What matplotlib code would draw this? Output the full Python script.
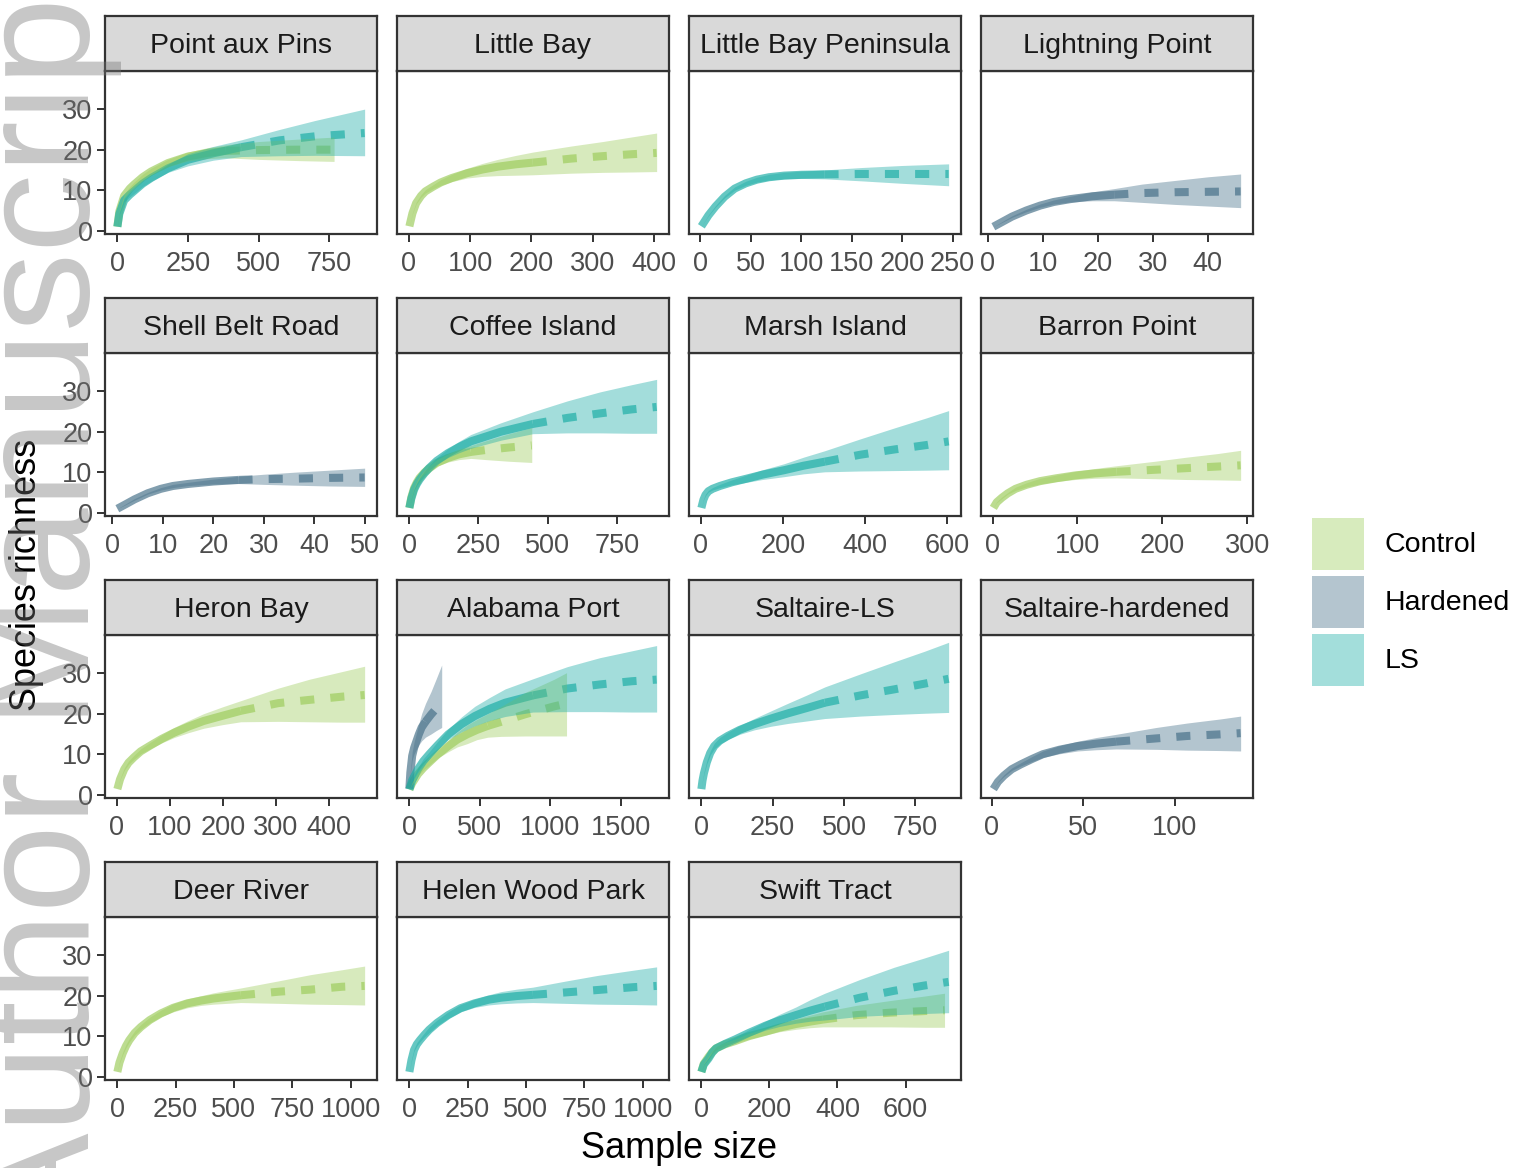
import matplotlib
matplotlib.use("Agg")
import matplotlib.pyplot as plt
from matplotlib.patches import Rectangle
from matplotlib.colors import to_rgb

# ---------------- data ----------------
GROUPS = ["Control", "Hardened", "LS"]
GROUP_COLORS = {"Control": "#9CCC5A", "Hardened": "#436E87", "LS": "#19ACA5"}

SITES = ["Point aux Pins", "Little Bay", "Little Bay Peninsula", "Lightning Point",
         "Shell Belt Road", "Coffee Island", "Marsh Island", "Barron Point",
         "Heron Bay", "Alabama Port", "Saltaire-LS", "Saltaire-hardened",
         "Deer River", "Helen Wood Park", "Swift Tract"]

X_TICKS = {
    "Point aux Pins": [0, 250, 500, 750],
    "Little Bay": [0, 100, 200, 300, 400],
    "Little Bay Peninsula": [0, 50, 100, 150, 200, 250],
    "Lightning Point": [0, 10, 20, 30, 40],
    "Shell Belt Road": [0, 10, 20, 30, 40, 50],
    "Coffee Island": [0, 250, 500, 750],
    "Marsh Island": [0, 200, 400, 600],
    "Barron Point": [0, 100, 200, 300],
    "Heron Bay": [0, 100, 200, 300, 400],
    "Alabama Port": [0, 500, 1000, 1500],
    "Saltaire-LS": [0, 250, 500, 750],
    "Saltaire-hardened": [0, 50, 100],
    "Deer River": [0, 250, 500, 750, 1000],
    "Helen Wood Park": [0, 250, 500, 750, 1000],
    "Swift Tract": [0, 200, 400, 600],
}
Y_TICKS = [0, 10, 20, 30]

# each curve: sample size n, richness s, lower / upper CI, observed sample size
pap_control = dict(n=[1, 8, 25, 45, 60, 90, 120, 180, 250, 320, 384, 500, 640, 767],
                   s=[1.0, 4.8, 8.6, 10.4, 11.4, 13.2, 14.6, 16.7, 18.3, 19.2, 19.7, 19.9, 20.0, 20.0],
                   lo=[1.0, 4.6, 8.2, 9.9, 10.8, 12.5, 13.8, 15.8, 17.2, 17.8, 18.0, 17.6, 17.3, 17.1],
                   hi=[1.0, 5.0, 9.0, 10.9, 12.0, 13.9, 15.4, 17.6, 19.4, 20.5, 21.2, 22.0, 22.6, 23.1],
                   obs=384)
pap_ls = dict(n=[1, 8, 25, 45, 60, 90, 120, 180, 250, 340, 438, 575, 700, 875],
              s=[1.0, 4.2, 7.5, 8.9, 9.8, 11.6, 13.0, 15.4, 17.5, 19.1, 20.6, 22.3, 23.3, 24.1],
              lo=[1.0, 4.0, 7.1, 8.4, 9.2, 10.9, 12.2, 14.4, 16.0, 17.4, 18.3, 18.5, 18.6, 18.5],
              hi=[1.0, 4.4, 7.9, 9.4, 10.4, 12.3, 13.8, 16.4, 19.0, 20.8, 22.4, 25.0, 27.2, 30.0],
              obs=438)
lb_control = dict(n=[1, 6, 12, 20, 27, 40, 52, 70, 95, 120, 145, 175, 202, 265, 316, 366, 404],
                  s=[1.1, 4.3, 6.8, 8.6, 9.7, 10.9, 11.9, 13.0, 14.2, 15.1, 15.8, 16.4, 16.8, 17.8, 18.4, 18.9, 19.2],
                  lo=[1.1, 4.2, 6.6, 8.3, 9.3, 10.4, 11.2, 12.1, 13.0, 13.4, 13.6, 13.7, 13.8, 14.2, 14.4, 14.5, 14.6],
                  hi=[1.1, 4.4, 7.0, 8.9, 10.1, 11.4, 12.6, 13.9, 15.4, 16.6, 17.6, 18.6, 19.4, 20.9, 22.0, 23.2, 24.1],
                  obs=202)
lbp_ls = dict(n=[1, 8, 15, 24, 34, 45, 56, 68, 83, 100, 123, 160, 200, 246],
              s=[1.1, 3.8, 6.0, 8.4, 10.4, 11.7, 12.6, 13.2, 13.6, 13.8, 13.9, 14.0, 14.0, 14.0],
              lo=[1.1, 3.7, 5.8, 8.1, 10.0, 11.2, 12.0, 12.5, 12.8, 12.9, 12.8, 12.3, 11.7, 11.1],
              hi=[1.1, 3.9, 6.2, 8.7, 10.8, 12.2, 13.2, 13.9, 14.4, 14.7, 15.0, 15.6, 16.1, 16.5],
              obs=123)
lp_hardened = dict(n=[1, 2.5, 4.4, 7, 9.5, 12, 15, 19, 23, 28, 34, 40, 46],
                   s=[1.0, 2.1, 3.5, 5.0, 6.2, 7.1, 7.8, 8.5, 8.9, 9.3, 9.5, 9.6, 9.7],
                   lo=[1.0, 2.0, 3.3, 4.7, 5.8, 6.6, 7.1, 7.4, 7.4, 7.0, 6.5, 6.1, 5.7],
                   hi=[1.0, 2.2, 3.7, 5.3, 6.6, 7.6, 8.5, 9.6, 10.4, 11.5, 12.4, 13.3, 14.0],
                   obs=23)
sbr_hardened = dict(n=[1, 2.5, 4.4, 7, 9.6, 12, 15, 20, 25, 30, 36, 43, 50],
                    s=[1.0, 2.0, 3.3, 4.8, 5.9, 6.6, 7.1, 7.7, 8.1, 8.3, 8.4, 8.6, 8.7],
                    lo=[1.0, 1.9, 3.1, 4.6, 5.6, 6.2, 6.7, 7.1, 7.2, 7.0, 6.8, 6.6, 6.5],
                    hi=[1.0, 2.1, 3.5, 5.0, 6.2, 7.0, 7.5, 8.3, 9.0, 9.5, 10.0, 10.5, 11.0],
                    obs=25)
ci_control = dict(n=[1, 8, 18, 28, 38, 55, 72, 100, 140, 180, 223, 279, 361, 443],
                  s=[1.2, 3.8, 6.1, 7.5, 8.6, 9.9, 10.9, 12.3, 13.5, 14.4, 15.0, 15.5, 16.1, 16.6],
                  lo=[1.2, 3.7, 5.9, 7.2, 8.2, 9.4, 10.3, 11.5, 12.5, 13.1, 13.4, 13.1, 12.7, 12.4],
                  hi=[1.2, 3.9, 6.3, 7.8, 9.0, 10.4, 11.5, 13.1, 14.5, 15.7, 16.6, 17.8, 19.5, 21.0],
                  obs=223)
ci_ls = dict(n=[1, 8, 18, 28, 38, 55, 72, 100, 140, 180, 223, 332, 447, 572, 689, 805, 894],
             s=[1.2, 3.5, 5.7, 7.1, 8.2, 9.7, 11.0, 12.8, 14.7, 16.2, 17.6, 20.0, 21.9, 23.4, 24.5, 25.5, 26.1],
             lo=[1.2, 3.4, 5.5, 6.8, 7.8, 9.2, 10.4, 12.0, 13.6, 14.8, 15.9, 17.9, 19.5, 19.7, 19.7, 19.6, 19.6],
             hi=[1.2, 3.6, 5.9, 7.4, 8.6, 10.2, 11.6, 13.6, 15.8, 17.6, 19.3, 22.2, 24.9, 27.6, 29.8, 31.6, 32.9],
             obs=447)
mi_ls = dict(n=[1, 6, 11, 18, 28, 46, 75, 111, 150, 203, 250, 302, 388, 471, 550, 604],
             s=[1.2, 3.2, 4.4, 5.3, 5.9, 6.6, 7.5, 8.4, 9.4, 10.5, 11.6, 12.6, 14.3, 15.6, 16.7, 17.6],
             lo=[1.2, 3.1, 4.2, 5.1, 5.6, 6.2, 6.9, 7.5, 8.2, 8.9, 9.6, 10.1, 10.3, 10.4, 10.5, 10.6],
             hi=[1.2, 3.3, 4.6, 5.5, 6.2, 7.0, 8.1, 9.3, 10.6, 12.1, 13.7, 15.3, 18.2, 20.9, 23.4, 25.2],
             obs=302)
bp_control = dict(n=[1, 5, 11, 18, 27, 40, 56, 75, 97, 120, 146, 191, 228, 265, 292],
                  s=[1.2, 2.6, 3.7, 4.8, 5.9, 6.9, 7.8, 8.5, 9.2, 9.7, 10.1, 10.6, 11.0, 11.4, 11.7],
                  lo=[1.2, 2.5, 3.5, 4.6, 5.5, 6.4, 7.1, 7.7, 8.2, 8.5, 8.6, 8.4, 8.2, 8.1, 8.0],
                  hi=[1.2, 2.7, 3.9, 5.0, 6.3, 7.4, 8.5, 9.3, 10.2, 10.9, 11.6, 12.7, 13.7, 14.6, 15.4],
                  obs=146)
hb_control = dict(n=[1, 6, 14, 22, 32, 45, 64, 85, 108, 135, 164, 200, 234, 305, 364, 426, 468],
                  s=[1.4, 3.8, 6.3, 7.9, 9.2, 10.7, 12.2, 13.8, 15.3, 16.8, 18.2, 19.5, 20.7, 22.6, 23.4, 24.2, 24.6],
                  lo=[1.4, 3.7, 6.0, 7.5, 8.7, 10.1, 11.4, 12.8, 14.1, 15.3, 16.4, 17.3, 18.0, 18.1, 18.0, 17.9, 17.9],
                  hi=[1.4, 3.9, 6.6, 8.3, 9.7, 11.3, 13.0, 14.8, 16.6, 18.3, 20.0, 21.7, 23.2, 26.3, 28.5, 30.4, 31.7],
                  obs=234)
ap_control = dict(n=[1, 20, 62, 100, 142, 200, 276, 340, 410, 480, 557, 652, 826, 1027, 1114],
                  s=[1.3, 2.8, 5.1, 6.6, 8.0, 9.9, 12.0, 13.6, 14.9, 16.0, 17.0, 18.0, 19.9, 21.8, 22.5],
                  lo=[1.3, 2.6, 4.7, 6.1, 7.3, 9.0, 10.6, 11.8, 12.6, 13.6, 14.2, 14.4, 14.5, 14.5, 14.5],
                  hi=[1.3, 3.0, 5.5, 7.1, 8.7, 10.8, 13.4, 15.4, 17.2, 18.6, 20.0, 21.8, 25.3, 28.5, 30.1],
                  obs=557)
ap_hardened = dict(n=[1, 8, 21, 35, 48, 68, 88, 115, 155, 190, 230],
                   s=[1.5, 5.5, 9.6, 11.6, 12.9, 14.9, 16.6, 18.0, 19.8, 21.2, 22.4],
                   lo=[1.5, 5.1, 8.6, 10.1, 11.0, 12.3, 13.3, 14.2, 15.0, 15.8, 16.6],
                   hi=[1.5, 5.9, 10.6, 13.1, 14.8, 17.5, 20.0, 22.5, 25.5, 28.5, 32.0],
                   obs=115)
ap_ls = dict(n=[1, 20, 62, 100, 142, 200, 276, 370, 464, 570, 679, 876, 1120, 1349, 1577, 1752],
             s=[1.3, 3.5, 6.3, 8.3, 10.0, 12.2, 14.9, 17.4, 19.4, 21.2, 22.7, 24.5, 26.2, 27.2, 28.0, 28.4],
             lo=[1.3, 3.2, 5.9, 7.7, 9.4, 11.3, 13.6, 15.5, 17.0, 18.3, 19.3, 20.4, 20.5, 20.5, 20.4, 20.4],
             hi=[1.3, 3.8, 6.7, 8.9, 10.6, 13.1, 16.2, 19.2, 21.8, 24.0, 26.1, 28.6, 31.6, 33.8, 35.5, 36.8],
             obs=876)
sls_ls = dict(n=[1, 5, 10, 20, 32, 46, 65, 93, 135, 186, 245, 305, 370, 433, 557, 676, 782, 866],
              s=[1.4, 3.5, 5.3, 8.0, 10.3, 12.0, 13.3, 14.5, 16.0, 17.4, 18.8, 20.1, 21.4, 22.7, 24.5, 26.0, 27.4, 28.6],
              lo=[1.4, 3.4, 5.1, 7.6, 9.8, 11.3, 12.5, 13.6, 14.9, 16.0, 16.9, 17.6, 18.2, 18.8, 19.4, 19.8, 20.1, 20.3],
              hi=[1.4, 3.6, 5.5, 8.4, 10.8, 12.7, 14.1, 15.4, 17.1, 18.8, 20.7, 22.6, 24.6, 26.6, 29.8, 32.8, 35.4, 37.6],
              obs=433)
sh_hardened = dict(n=[1, 3.5, 6.7, 11, 16, 22, 28, 37, 47, 57, 68, 90, 107, 125, 136],
                   s=[1.4, 3.2, 4.7, 6.3, 7.5, 8.8, 10.0, 11.1, 12.0, 12.6, 13.1, 13.9, 14.5, 14.9, 15.2],
                   lo=[1.4, 3.1, 4.5, 6.0, 7.1, 8.2, 9.2, 10.1, 10.8, 11.1, 11.3, 11.2, 11.0, 10.9, 10.8],
                   hi=[1.4, 3.3, 4.9, 6.6, 7.9, 9.4, 10.8, 12.1, 13.2, 14.1, 14.9, 16.6, 17.7, 18.7, 19.4],
                   obs=68)
dr_control = dict(n=[1, 10, 24, 38, 52, 75, 102, 140, 187, 240, 300, 360, 413, 470, 530, 696, 830, 964, 1060],
                  s=[1.2, 3.5, 5.8, 7.6, 9.0, 10.8, 12.3, 14.0, 15.6, 17.0, 18.1, 18.8, 19.3, 19.7, 20.1, 21.0, 21.5, 22.2, 22.4],
                  lo=[1.2, 3.3, 5.5, 7.2, 8.6, 10.3, 11.7, 13.3, 14.8, 16.0, 17.0, 17.6, 17.9, 18.1, 18.3, 18.1, 17.9, 17.8, 17.7],
                  hi=[1.2, 3.7, 6.1, 8.0, 9.4, 11.3, 12.9, 14.7, 16.4, 18.0, 19.2, 20.0, 20.7, 21.3, 21.9, 23.7, 25.2, 26.4, 27.3],
                  obs=530)
hwp_ls = dict(n=[1, 10, 21, 33, 46, 65, 86, 120, 167, 220, 280, 340, 394, 460, 530, 670, 808, 962, 1060],
              s=[1.2, 4.1, 6.6, 8.0, 9.0, 10.3, 11.6, 13.3, 15.2, 16.9, 18.1, 19.0, 19.5, 19.9, 20.2, 20.8, 21.4, 22.1, 22.4],
              lo=[1.2, 3.9, 6.3, 7.6, 8.6, 9.8, 10.9, 12.6, 14.4, 16.0, 17.1, 17.7, 18.0, 18.2, 18.3, 18.1, 17.9, 17.8, 17.7],
              hi=[1.2, 4.3, 6.9, 8.4, 9.4, 10.8, 12.3, 14.0, 16.0, 17.8, 19.1, 20.2, 21.0, 21.6, 22.1, 23.6, 25.0, 26.3, 27.1],
              obs=530)
st_control = dict(n=[1, 8, 22, 33, 44, 70, 100, 140, 189, 230, 278, 320, 357, 455, 555, 655, 714],
                  s=[1.2, 3.2, 4.9, 6.1, 7.0, 8.0, 8.8, 10.0, 11.1, 12.1, 13.0, 13.6, 14.1, 15.2, 15.8, 16.2, 16.4],
                  lo=[1.2, 3.1, 4.7, 5.8, 6.6, 7.5, 8.3, 9.3, 10.3, 11.1, 11.7, 12.1, 12.3, 12.3, 12.3, 12.2, 12.2],
                  hi=[1.2, 3.3, 5.1, 6.4, 7.4, 8.5, 9.3, 10.7, 11.9, 13.1, 14.3, 15.2, 16.0, 17.6, 18.8, 19.9, 20.6],
                  obs=357)
st_ls = dict(n=[1, 8, 22, 33, 44, 70, 100, 140, 189, 230, 278, 320, 363, 466, 566, 655, 726],
             s=[1.2, 3.0, 4.5, 6.0, 7.0, 8.1, 9.2, 10.8, 12.6, 13.9, 15.2, 16.3, 17.3, 19.5, 21.2, 22.5, 23.4],
             lo=[1.2, 2.9, 4.3, 5.7, 6.6, 7.6, 8.6, 10.0, 11.5, 12.4, 13.2, 13.7, 14.0, 14.9, 15.3, 15.6, 15.8],
             hi=[1.2, 3.1, 4.7, 6.3, 7.4, 8.6, 9.8, 11.6, 13.7, 15.4, 17.2, 19.0, 20.6, 24.0, 27.0, 29.3, 31.2],
             obs=363)

SITE_CURVES = {
    "Point aux Pins": [("Control", pap_control), ("LS", pap_ls)],
    "Little Bay": [("Control", lb_control)],
    "Little Bay Peninsula": [("LS", lbp_ls)],
    "Lightning Point": [("Hardened", lp_hardened)],
    "Shell Belt Road": [("Hardened", sbr_hardened)],
    "Coffee Island": [("Control", ci_control), ("LS", ci_ls)],
    "Marsh Island": [("LS", mi_ls)],
    "Barron Point": [("Control", bp_control)],
    "Heron Bay": [("Control", hb_control)],
    "Alabama Port": [("Control", ap_control), ("Hardened", ap_hardened), ("LS", ap_ls)],
    "Saltaire-LS": [("LS", sls_ls)],
    "Saltaire-hardened": [("Hardened", sh_hardened)],
    "Deer River": [("Control", dr_control)],
    "Helen Wood Park": [("LS", hwp_ls)],
    "Swift Tract": [("Control", st_control), ("LS", st_ls)],
}

# ---------------- layout / style ----------------
W, H, DPI = 1519, 1168, 100
plt.rcParams['font.family'] = ['Liberation Sans', 'DejaVu Sans']
fig = plt.figure(figsize=(W / DPI, H / DPI), dpi=DPI)
fig.patch.set_facecolor("white")


def box(x, y, w, h):
    return [x / W, 1 - (y + h) / H, w / W, h / H]


BORDER = "#333333"
RIBBON_ALPHA = 0.4
LINE_ALPHA = 0.67
LW = 5.8
YLIM = (-0.8, 39.4)

COL_LEFT, COL_STEP, PANEL_W = 105, 292, 272
ROW_TOP, ROW_STEP, STRIP_H, PANEL_H = 16, 282, 55, 163

for i, site in enumerate(SITES):
    r, c = divmod(i, 4)
    x0 = COL_LEFT + c * COL_STEP
    st = ROW_TOP + r * ROW_STEP
    ax = fig.add_axes(box(x0, st + STRIP_H, PANEL_W, PANEL_H))
    sax = fig.add_axes(box(x0, st, PANEL_W, STRIP_H))

    curves = SITE_CURVES[site]
    for g, cv in curves:
        col = GROUP_COLORS[g]
        k = cv["n"].index(cv["obs"])
        ax.plot(cv["n"][:k + 1], cv["s"][:k + 1], color=col, alpha=LINE_ALPHA, lw=LW,
                solid_capstyle="butt", solid_joinstyle="round", zorder=2)
        ax.plot(cv["n"][k:], cv["s"][k:], color=col, alpha=LINE_ALPHA, lw=LW,
                linestyle=(0, (1.75, 2.0)), dash_capstyle="butt", zorder=2)
    for g, cv in curves:
        ax.fill_between(cv["n"], cv["lo"], cv["hi"], color=GROUP_COLORS[g],
                        alpha=RIBBON_ALPHA, lw=0, zorder=3)

    ax.margins(x=0.05)
    ax.set_ylim(*YLIM)
    ax.set_xticks(X_TICKS[site])
    ax.set_xticklabels([str(t) for t in X_TICKS[site]])
    if c == 0:
        ax.set_yticks(Y_TICKS)
        ax.set_yticklabels([str(t) for t in Y_TICKS])
    else:
        ax.set_yticks([])
    ax.tick_params(direction="out", length=6, width=1.4, color=BORDER,
                   labelcolor="#4d4d4d", labelsize=19.5)
    ax.tick_params(axis="x", pad=6.5)
    ax.tick_params(axis="y", pad=3)
    for sp in ax.spines.values():
        sp.set_color(BORDER)
        sp.set_linewidth(1.6)
    ax.set_facecolor("white")

    sax.set_facecolor("#d9d9d9")
    sax.set_xticks([])
    sax.set_yticks([])
    for sp in sax.spines.values():
        sp.set_color(BORDER)
        sp.set_linewidth(1.6)
    sax.text(0.5, 0.46, site, ha="center", va="center", fontsize=20.5,
             color="#1a1a1a", transform=sax.transAxes)

# axis titles
fig.text(679 / W, 1 - 1149 / H, "Sample size", ha="center", va="center",
         fontsize=26, color="black")
fig.text(27 / W, 1 - 575 / H, "Species richness", ha="center", va="center",
         rotation=90, fontsize=26, color="black")

# legend
for j, g in enumerate(GROUPS):
    rgb = to_rgb(GROUP_COLORS[g])
    fillc = tuple(RIBBON_ALPHA * v + (1 - RIBBON_ALPHA) for v in rgb)
    y = 518 + 58 * j
    fig.add_artist(Rectangle((1312 / W, 1 - (y + 52) / H), 52 / W, 52 / H,
                             transform=fig.transFigure, facecolor=fillc,
                             edgecolor="none"))
    fig.text(1385 / W, 1 - (y + 27) / H, g, ha="left", va="center",
             fontsize=20.5, color="black")

# watermark
fig.text(89 / W, 1 - 1238 / H, "Author Manuscript", rotation=90,
         rotation_mode="anchor", ha="left", va="baseline", fontsize=114,
         color=(0.45, 0.45, 0.45), alpha=0.4, zorder=10)

fig.savefig("out.png", dpi=DPI)
